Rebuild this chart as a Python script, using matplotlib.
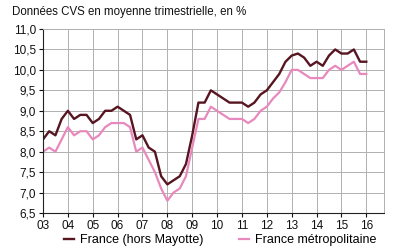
import numpy as np
import matplotlib
matplotlib.use('Agg')
import matplotlib.pyplot as plt

plt.rcParams['font.family'] = ['Liberation Sans', 'DejaVu Sans']

# Donnees trimestrielles 2003T1 - 2016T1
start_year = 2003
france = [8.3, 8.5, 8.4, 8.8,
          9.0, 8.8, 8.9, 8.9,
          8.7, 8.8, 9.0, 9.0,
          9.1, 9.0, 8.9, 8.3,
          8.4, 8.1, 8.0, 7.4,
          7.2, 7.3, 7.4, 7.7,
          8.4, 9.2, 9.2, 9.5,
          9.4, 9.3, 9.2, 9.2,
          9.2, 9.1, 9.2, 9.4,
          9.5, 9.7, 9.9, 10.2,
          10.35, 10.4, 10.3, 10.1,
          10.2, 10.1, 10.35, 10.5,
          10.4, 10.4, 10.5, 10.2,
          10.2]
metropole = [8.0, 8.1, 8.0, 8.3,
             8.6, 8.4, 8.5, 8.5,
             8.3, 8.4, 8.6, 8.7,
             8.7, 8.7, 8.6, 8.0,
             8.1, 7.8, 7.5, 7.1,
             6.8, 7.0, 7.1, 7.4,
             8.1, 8.8, 8.8, 9.1,
             9.0, 8.9, 8.8, 8.8,
             8.8, 8.7, 8.8, 9.0,
             9.1, 9.3, 9.45, 9.7,
             10.0, 10.0, 9.9, 9.8,
             9.8, 9.8, 10.0, 10.1,
             10.0, 10.1, 10.2, 9.9,
             9.9]
year_ticks = list(range(3, 17))
year_labels = [f'{y:02d}' for y in year_ticks]
y_ticks = [6.5, 7.0, 7.5, 8.0, 8.5, 9.0, 9.5, 10.0, 10.5, 11.0]

x = 3 + np.arange(len(france)) / 4.0

fig = plt.figure(figsize=(4, 2.5), dpi=100)
ax = fig.add_axes([0.1075, 0.148, 0.853, 0.736])

ax.plot(x, france, color='#561520', linewidth=1.7, label='France (hors Mayotte)')
ax.plot(x, metropole, color='#e889bd', linewidth=1.6, label='France métropolitaine')

ax.set_xlim(3, 16.72)
ax.set_ylim(6.5, 11.0)
ax.set_xticks(year_ticks)
ax.set_xticklabels(year_labels)
ax.set_yticks(y_ticks)
ax.set_yticklabels([f'{v:.1f}'.replace('.', ',') for v in y_ticks])
ax.tick_params(labelsize=8.5, length=3, width=0.8, pad=2, colors='#111111')
ax.grid(True, color='#b0b0b0', linewidth=0.7)
for s in ['top', 'right']:
    ax.spines[s].set_color('#b0b0b0')
    ax.spines[s].set_linewidth(0.7)
for s in ['left', 'bottom']:
    ax.spines[s].set_color('#222222')
    ax.spines[s].set_linewidth(0.8)

fig.text(0.03, 0.952, 'Données CVS en moyenne trimestrielle, en %', fontsize=8.3,
         color='#111111', va='center')
fig.legend(loc='lower center', bbox_to_anchor=(0.55, -0.03), ncol=2, frameon=False,
           fontsize=9, handlelength=0.8, handletextpad=0.5, columnspacing=2.8)

fig.savefig('out.png', dpi=100)
